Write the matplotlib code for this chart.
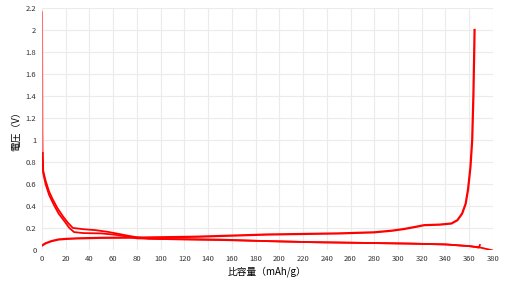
import matplotlib.pyplot as plt

plt.rcParams['font.family'] = ['Noto Sans CJK JP', 'DejaVu Sans']

# 初回放電の立ち上がり部分（薄い線）
spike_cap = [0, 0.2, 0.4, 0.7]
spike_v = [2.16, 1.6, 1.1, 0.88]

# 放電1（上側）
dis1_cap = [0.7, 1, 3, 6, 9, 13, 18, 22, 26, 35, 45, 55, 65, 72, 80, 90, 110, 150,
            190, 230, 270, 310, 340, 360, 368, 372, 380]
dis1_v = [0.88, 0.72, 0.63, 0.53, 0.46, 0.38, 0.3, 0.245, 0.2, 0.188, 0.18, 0.165,
          0.145, 0.13, 0.115, 0.102, 0.097, 0.09, 0.08, 0.07, 0.064, 0.058, 0.05,
          0.035, 0.025, 0.015, -0.005]

# 放電2（下側）
dis2_cap = [0, 1, 3, 6, 10, 14, 19, 23, 27, 35, 50, 60, 70, 80, 100, 150, 190, 230,
            270, 310, 340, 360, 366, 368, 369]
dis2_v = [0.88, 0.7, 0.6, 0.5, 0.41, 0.33, 0.26, 0.2, 0.162, 0.153, 0.15, 0.14,
          0.125, 0.105, 0.1, 0.094, 0.08, 0.07, 0.064, 0.057, 0.05, 0.034, 0.025,
          0.02, 0.045]

# 充電
chg_cap = [0, 3, 8, 14, 20, 30, 50, 80, 100, 130, 160, 190, 220, 250, 280, 295, 305,
           315, 322, 335, 345, 350, 354, 357, 359, 361, 362.5, 363.5, 364.2, 364.5]
chg_v = [0.04, 0.06, 0.08, 0.095, 0.1, 0.105, 0.11, 0.112, 0.115, 0.12, 0.13, 0.14,
         0.145, 0.15, 0.16, 0.175, 0.19, 0.21, 0.225, 0.23, 0.24, 0.27, 0.33, 0.42,
         0.55, 0.75, 1.0, 1.4, 1.8, 2.0]

xticks = list(range(0, 381, 20))
yticks = [0, 0.2, 0.4, 0.6, 0.8, 1, 1.2, 1.4, 1.6, 1.8, 2, 2.2]
yticklabels = ['0', '0.2', '0.4', '0.6', '0.8', '1', '1.2', '1.4', '1.6', '1.8', '2', '2.2']

fig = plt.figure(figsize=(5.09, 2.84), dpi=100)
ax = fig.add_axes([0.0825, 0.12, 0.886, 0.852])

ax.plot(spike_cap, spike_v, color='#ff7070', lw=1.4)
ax.plot(dis1_cap, dis1_v, color='red', lw=1.3)
ax.plot(dis2_cap, dis2_v, color='red', lw=1.3)
ax.plot(chg_cap, chg_v, color='red', lw=1.6)

ax.set_xlim(0, 380)
ax.set_ylim(0, 2.2)
ax.set_xticks(xticks)
ax.set_yticks(yticks)
ax.set_yticklabels(yticklabels)
ax.grid(True, color='#ebebeb', lw=0.8)
ax.set_axisbelow(True)
for s in ax.spines.values():
    s.set_visible(False)
ax.tick_params(length=0, labelsize=5.5, colors='#333333', pad=4)
ax.set_xlabel('比容量（mAh/g）', fontsize=7, labelpad=2)
ax.set_ylabel('電圧（V）', fontsize=7, labelpad=3)

fig.savefig('out.png', dpi=100)
